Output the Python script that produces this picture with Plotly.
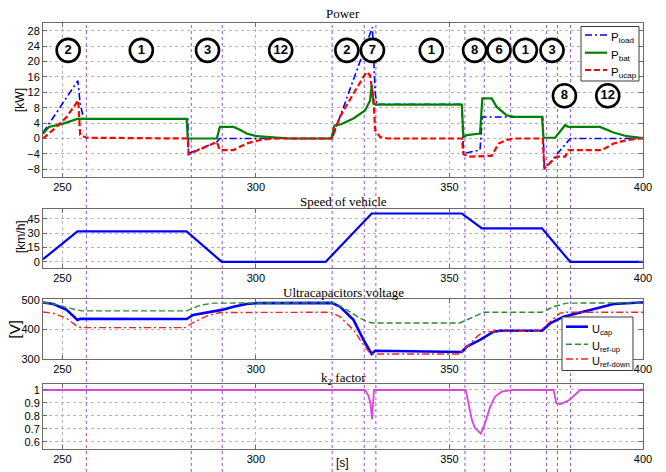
import plotly.graph_objects as go

# ---------------- data ----------------
T_RANGE = [245, 400]

# phase boundaries [s]
phase_bounds = [256.2, 283.3, 291.3, 319.7, 328.0, 331.0, 354.0, 359.0, 365.8, 375.1, 377.9, 381.3]

# phase identifiers drawn as circled numbers on the power plot
phase_labels = ["2", "1", "3", "12", "2", "7", "1", "8", "6", "1", "3", "8", "12"]
phase_t = [251.5, 270.4, 287.5, 306.4, 323.5, 330.1, 345.3, 356.5, 362.8, 369.6, 376.5, 379.7, 390.9]
phase_kw = [22.9, 22.9, 22.9, 22.9, 22.9, 22.9, 22.9, 22.9, 22.9, 22.9, 22.9, 11.1, 11.1]

# load power [kW]
t_load = [245, 254.0, 254.6, 255.5, 282.4, 282.6, 289.9, 290.6, 319.7, 330.1, 330.8, 331.2,
          353.2, 353.6, 357.9, 358.5, 374.1, 374.5, 381.2, 400]
p_load = [1.5, 15.0, 9.0, 5.1, 5.1, -3.9, -0.9, 0.0, 0.0, 28.9, 12.0, 8.9,
          8.9, -3.9, -3.0, 5.6, 5.6, -8.0, 0.0, 0.0]

# battery power [kW]
t_bat = [245, 246.5, 250.0, 253.9, 255.0, 282.1, 282.4, 289.9, 290.7, 294.2, 296.0, 297.6, 300.2,
         304.5, 308.8, 319.5, 320.3, 322.0, 325.2, 328.2, 329.5, 329.9, 330.4, 331.0,
         353.2, 353.6, 354.5, 357.9, 358.5, 360.9, 362.2, 364.8, 366.5, 368.3, 373.9, 374.3,
         377.3, 379.9, 380.7, 388.9, 390.6, 392.4, 395.8, 399.3, 400]
p_bat = [1.2, 3.0, 3.8, 5.1, 5.1, 5.1, 0.0, 0.0, 3.0, 3.0, 2.2, 1.3, 0.6,
         0.25, 0.0, 0.0, 3.4, 3.7, 5.2, 7.3, 9.9, 13.8, 9.1, 8.8,
         8.8, 0.3, 0.9, 1.3, 10.4, 10.4, 8.2, 6.0, 5.7, 5.6, 5.6, 0.2,
         0.2, 3.5, 3.0, 3.0, 2.3, 1.55, 0.6, 0.2, 0.1]

# ultracapacitor power [kW]
t_ucap = [245, 248.5, 251.1, 253.9, 254.1, 254.6, 256.3, 282.4, 282.6, 289.9, 290.7, 294.2,
          297.6, 301.1, 304.5, 319.5, 321.7, 325.2, 328.6, 329.5, 330.4, 330.8, 332.1, 334.0,
          353.2, 353.6, 355.3, 360.9, 362.7, 364.8, 366.5, 374.1, 374.5, 377.7, 379.9, 380.7,
          389.4, 392.4, 395.8, 399.3, 400]
p_ucap = [0.0, 3.0, 5.6, 9.5, 9.9, 0.9, 0.2, 0.0, -4.1, -0.9, -3.0, -3.0,
          -1.3, -0.4, 0.0, 0.0, 5.6, 11.7, 17.3, 16.4, 9.9, 2.2, 0.4, 0.0,
          0.0, -4.1, -4.7, -4.5, -1.3, -0.4, 0.0, 0.0, -7.8, -4.7, -4.7, -3.0,
          -3.0, -1.3, -0.4, 0.0, 0.0]

# vehicle speed [km/h]
t_speed = [245, 253.9, 282.1, 291.2, 318.0, 329.9, 353.2, 358.4, 373.9, 381.2, 400]
v_speed = [2.8, 31.8, 31.8, 0.0, 0.0, 50.5, 50.5, 35.0, 35.0, 0.0, 0.0]

# ultracapacitor voltage [V]
t_ucv = [245, 247.7, 251.1, 253.9, 254.6, 282.1, 283.8, 287.3, 291.2, 294.2, 297.6, 300.2,
         319.6, 321.7, 325.2, 327.8, 329.5, 329.9, 330.8, 353.2, 354.5, 357.9, 361.4, 363.1,
         373.9, 376.0, 379.5, 383.8, 388.1, 392.4, 399.3, 400]
u_cap = [491, 486, 466, 432, 436, 435, 449, 458, 466, 477, 486, 489,
         490, 477, 432, 364, 324, 316, 327, 323, 341, 364, 392, 395,
         395, 420, 443, 458, 472, 486, 491, 491]

t_up = [245, 246.8, 251.1, 253.9, 255.0, 282.1, 285.6, 289.0, 320.0, 323.5, 326.9, 329.5,
        330.4, 352.7, 355.3, 358.8, 373.9, 376.9, 380.3, 400]
u_up = [491, 489, 474, 464, 462.5, 462.5, 482, 489, 490, 466, 437.5, 423,
        421.6, 421.6, 437.5, 458, 458, 477, 489, 490]

t_down = [245, 247.7, 251.1, 253.9, 255.0, 281.7, 283.8, 287.3, 290.7, 319.2, 321.7, 325.2,
          327.8, 329.5, 330.4, 352.7, 354.5, 357.1, 358.8, 373.4, 376.0, 378.6, 380.3, 400]
u_down = [459, 454.5, 437.5, 409, 405.7, 405.7, 423, 445, 457, 458, 443, 398,
          347, 318, 316, 316, 341, 375, 392, 394, 426, 455, 458, 458]

# k2 factor
t_k2 = [245, 328.2, 329.0, 329.6, 330.0, 330.3, 330.5, 354.2, 354.9, 355.8, 356.6, 357.9,
        358.1, 359.2, 360.5, 361.8, 363.5, 366.5, 376.9, 377.6, 378.6, 380.8, 382.0, 383.8, 400]
k2 = [1, 1, 0.96, 0.9, 0.776, 0.95, 1, 1, 0.9, 0.77, 0.707, 0.67,
      0.664, 0.745, 0.87, 0.95, 0.987, 1, 1, 0.9, 0.89, 0.92, 0.95, 1, 1]

# ---------------- figure ----------------
W, H = 666, 472
M_L, M_R, M_T, M_B = 43, 23, 23, 23
PH = H - M_T - M_B


def py2paper(py):
    return (H - M_B - py) / PH


def px2paper(px):
    return (px - M_L) / (W - M_L - M_R)


SANS = "Liberation Sans, Arial, sans-serif"
SERIF = "Liberation Serif, Times New Roman, serif"

# line styles
ST_LOAD = dict(color="#0000ff", width=1.6, dash="7px,3px,2px,3px")
ST_BAT = dict(color="#008000", width=2.2)
ST_UCAP = dict(color="#ff0000", width=2.2, dash="6px,3px")
ST_UC = dict(color="#0000ff", width=2.6)
ST_UP = dict(color="#2e8b2e", width=1.4, dash="6px,3px")
ST_DOWN = dict(color="#ff2020", width=1.4, dash="7px,3px,2px,3px")

fig = go.Figure()

# power
fig.add_trace(go.Scatter(x=t_load, y=p_load, name="P<sub>load</sub>", mode="lines",
                         line=ST_LOAD, xaxis="x", yaxis="y"))
fig.add_trace(go.Scatter(x=t_bat, y=p_bat, name="P<sub>bat</sub>", mode="lines",
                         line=ST_BAT, xaxis="x", yaxis="y"))
fig.add_trace(go.Scatter(x=t_ucap, y=p_ucap, name="P<sub>ucap</sub>", mode="lines",
                         line=ST_UCAP, xaxis="x", yaxis="y"))
fig.add_trace(go.Scatter(x=phase_t, y=phase_kw, text=phase_labels, mode="markers+text",
                         marker=dict(size=23, color="white", line=dict(color="black", width=2.6)),
                         textposition="middle center",
                         textfont=dict(family=SANS, size=13, color="black", weight="bold"),
                         cliponaxis=False, hoverinfo="skip", xaxis="x", yaxis="y"))

# speed
fig.add_trace(go.Scatter(x=t_speed, y=v_speed, mode="lines",
                         line=dict(color="#0000ff", width=2.2), xaxis="x2", yaxis="y2"))

# voltage
fig.add_trace(go.Scatter(x=t_ucv, y=u_cap, name="U<sub>cap</sub>", mode="lines",
                         line=ST_UC, xaxis="x3", yaxis="y3"))
fig.add_trace(go.Scatter(x=t_up, y=u_up, name="U<sub>ref-up</sub>", mode="lines",
                         line=ST_UP, xaxis="x3", yaxis="y3"))
fig.add_trace(go.Scatter(x=t_down, y=u_down, name="U<sub>ref-down</sub>", mode="lines",
                         line=ST_DOWN, xaxis="x3", yaxis="y3"))

# k2
fig.add_trace(go.Scatter(x=t_k2, y=k2, mode="lines",
                         line=dict(color="#dd44dd", width=1.8), xaxis="x4", yaxis="y4"))

AX_COLOR = "#6a6a6a"
GRID = "#b4b4b4"


def xax(anchor):
    return dict(domain=[0, 1], range=T_RANGE, anchor=anchor,
                tickvals=[250, 300, 350, 400], ticks="inside", ticklen=4,
                tickcolor=AX_COLOR, showline=True, linecolor=AX_COLOR, linewidth=1,
                mirror="ticks", showgrid=True, gridcolor=GRID, griddash="dot", gridwidth=1,
                zeroline=False, tickfont=dict(family=SANS, size=11, color="black"))


def yax(anchor, dom, rng, vals, texts=None):
    d = dict(domain=dom, range=rng, anchor=anchor, tickvals=vals, ticks="inside", ticklen=4,
             tickcolor=AX_COLOR, showline=True, linecolor=AX_COLOR, linewidth=1,
             mirror="ticks", showgrid=True, gridcolor=GRID, griddash="dot", gridwidth=1,
             zeroline=False, tickfont=dict(family=SANS, size=11, color="black"))
    if texts is not None:
        d["ticktext"] = texts
    return d


dom_power = [py2paper(177), 1.0]
dom_speed = [py2paper(267.7), py2paper(208.7)]
dom_volt = [py2paper(359), py2paper(299.3)]
dom_k2 = [0.0, py2paper(384)]

shapes = []
annotations = []

# phase boundary lines across all panels
for tb in phase_bounds:
    shapes.append(dict(type="line", xref="x", yref="paper", x0=tb, x1=tb,
                       y0=py2paper(472), y1=1.0, layer="below",
                       line=dict(color="#9352d6", width=1, dash="dot")))


def add_legend(box, rows, fs):
    """Legend box in pixel coordinates: box=(left, top, right, bottom);
    rows = list of (sample_y, label, style)."""
    l, t, r, b = box
    shapes.append(dict(type="rect", xref="paper", yref="paper",
                       x0=px2paper(l), x1=px2paper(r), y0=py2paper(b), y1=py2paper(t),
                       fillcolor="white", line=dict(color="#3c3c3c", width=1), layer="above"))
    for sy, label, style in rows:
        shapes.append(dict(type="line", xref="paper", yref="paper",
                           x0=px2paper(l + 4), x1=px2paper(l + 26),
                           y0=py2paper(sy), y1=py2paper(sy), layer="above",
                           line=style))
        annotations.append(dict(text=label, xref="paper", yref="paper",
                                x=px2paper(l + 28), y=py2paper(sy + 3),
                                xanchor="left", yanchor="middle", showarrow=False,
                                font=dict(family=SANS, size=fs, color="black")))


add_legend((581, 26.5, 639, 81),
           [(35, "P<sub>load</sub>", ST_LOAD), (52.7, "P<sub>bat</sub>", ST_BAT),
            (70, "P<sub>ucap</sub>", ST_UCAP)], 11.5)
add_legend((562, 317, 633, 370.5),
           [(326.7, "U<sub>cap</sub>", ST_UC), (344.3, "U<sub>ref-up</sub>", ST_UP),
            (359, "U<sub>ref-down</sub>", ST_DOWN)], 11)

titles = [("Power", 13), ("Speed of vehicle", 201), ("Ultracapacitors voltage", 292),
          ("k<sub>2</sub> factor", 378)]
for txt, py in titles:
    annotations.append(dict(text=txt, xref="paper", yref="paper", x=0.5, y=py2paper(py),
                            xanchor="center", yanchor="middle", showarrow=False,
                            font=dict(family=SERIF, size=13, color="black")))

ylabels = [("[kW]", 20, 100, 12), ("[km/h]", 21, 237, 12), ("[V]", 13.5, 330, 15)]
for txt, px, py, fs in ylabels:
    annotations.append(dict(text=txt, xref="paper", yref="paper", x=px2paper(px), y=py2paper(py),
                            xanchor="center", yanchor="middle", textangle=-90, showarrow=False,
                            font=dict(family=SANS, size=fs, color="black")))
annotations.append(dict(text="[s]", xref="paper", yref="paper", x=px2paper(342), y=py2paper(463),
                        xanchor="center", yanchor="middle", showarrow=False,
                        font=dict(family=SANS, size=12, color="black")))

fig.update_layout(
    width=W, height=H,
    margin=dict(l=M_L, r=M_R, t=M_T, b=M_B, autoexpand=False),
    paper_bgcolor="white", plot_bgcolor="rgba(0,0,0,0)",
    showlegend=False,
    xaxis=xax("y"), yaxis=yax("x", dom_power, [-10, 30], list(range(-8, 29, 4))),
    xaxis2=xax("y2"), yaxis2=yax("x2", dom_speed, [-6, 55.5], [0, 15, 30, 45]),
    xaxis3=xax("y3"), yaxis3=yax("x3", dom_volt, [299, 502], [300, 400, 500]),
    xaxis4=xax("y4"), yaxis4=yax("x4", dom_k2, [0.546, 1.046], [0.6, 0.7, 0.8, 0.9, 1.0],
                                 ["0.6", "0.7", "0.8", "0.9", "1"]),
    shapes=shapes, annotations=annotations,
)

fig.write_html("out.html")
